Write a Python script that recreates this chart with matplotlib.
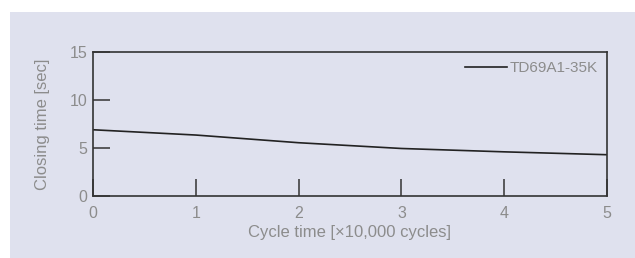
import matplotlib.pyplot as plt
from matplotlib.patches import Rectangle

# Values
cycles = [0, 1, 2, 3, 4, 5]
closing_time = [6.9, 6.35, 5.55, 4.95, 4.6, 4.3]
series_name = "TD69A1-35K"

bg = "#dfe1ee"
text_grey = "#8c8c8c"

plt.rcParams['font.family'] = ['Liberation Sans', 'DejaVu Sans']

fig = plt.figure(figsize=(6.35, 2.58), dpi=100)
fig.patch.set_facecolor("white")
fig.patches.append(Rectangle((10 / 635, 0), 1, 1 - 12 / 258, transform=fig.transFigure,
                             facecolor=bg, edgecolor="none", zorder=-10))

ax = fig.add_axes([93 / 635, 62 / 258, 514 / 635, 144 / 258])
ax.set_facecolor(bg)
ax.plot(cycles, closing_time, color="#222222", linewidth=1.2, label=series_name)

ax.set_xlim(0, 5)
ax.set_ylim(0, 15)
ax.set_xticks([0, 1, 2, 3, 4, 5])
ax.set_yticks([0, 5, 10, 15])
ax.tick_params(direction="in", length=12, width=1.1, color="#333333",
               labelcolor=text_grey, labelsize=11.5)
ax.tick_params(axis="x", pad=7)
ax.tick_params(axis="y", pad=4)
for s in ax.spines.values():
    s.set_color("#333333")
    s.set_linewidth(1.2)

ax.set_xlabel("Cycle time [×10,000 cycles]", color=text_grey, fontsize=12, labelpad=3)
ax.set_ylabel("Closing time [sec]", color=text_grey, fontsize=12, labelpad=14)

leg = ax.legend(loc="upper right", frameon=False, fontsize=11, handlelength=2.7,
                handletextpad=0.2, borderaxespad=0.2)
for t in leg.get_texts():
    t.set_color(text_grey)

fig.savefig("out.png", dpi=100, facecolor=fig.get_facecolor())
